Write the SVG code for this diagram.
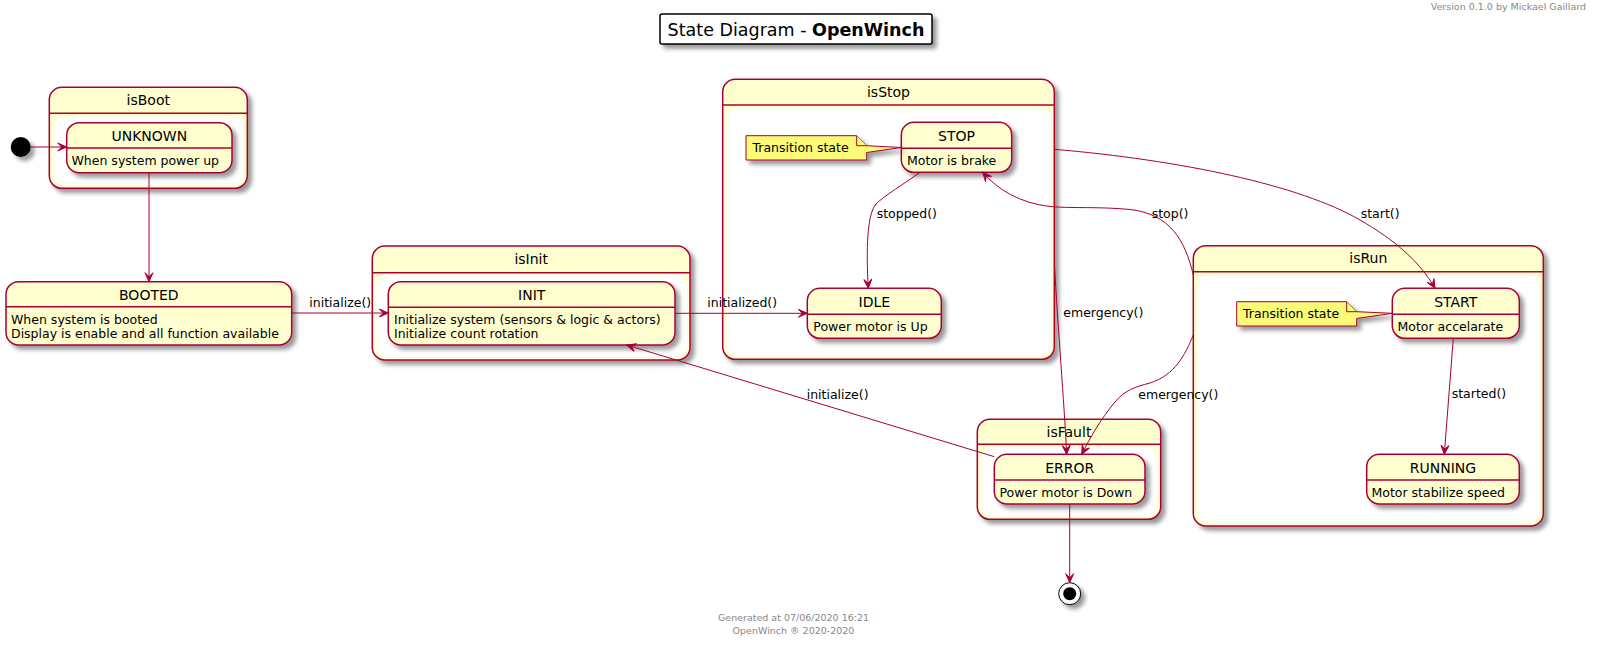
<svg xmlns="http://www.w3.org/2000/svg" width="1597" height="647" viewBox="0 0 1597 647">
<style>
text{font-family:"DejaVu Sans","Noto Sans",sans-serif;fill:#000000}
.st{fill:#FEFECE;stroke:#A80036;stroke-width:1.5}
.inner{fill:#FFFFFF;stroke:none}
.sep{stroke:#A80036;stroke-width:1.5;fill:none}
.note{fill:#FBFB77;stroke:#A80036;stroke-width:1}
.ln{fill:none;stroke:#A80036;stroke-width:1}
.t14{font-size:14px;text-anchor:middle}
.t12{font-size:12.5px}
.gray{font-size:9.5px;fill:#888888}
</style>
<defs>
<filter id="sh" x="-20%" y="-20%" width="150%" height="160%">
<feGaussianBlur in="SourceAlpha" stdDeviation="2" result="b"/>
<feColorMatrix in="b" type="matrix" values="0 0 0 0 0 0 0 0 0 0 0 0 0 0 0 0 0 0 .4 0" result="b2"/>
<feOffset in="b2" dx="4" dy="4" result="b3"/>
<feBlend in="SourceGraphic" in2="b3" mode="normal"/>
</filter>
<marker id="ah" viewBox="-10 -5 11 10" refX="0" refY="0" markerWidth="11" markerHeight="10" markerUnits="userSpaceOnUse" orient="auto">
<path d="M0,0 L-9,-4 L-5,0 L-9,4 Z" fill="#A80036" stroke="#A80036" stroke-width="1"/>
</marker>
</defs>

<g id="header">
<text class="gray" x="1586" y="9.5" text-anchor="end">Version 0.1.0 by Mickael Gaillard</text>
</g>
<g id="title">
<rect x="660" y="14" width="272" height="30" rx="2" fill="#FFFFFF" stroke="#000000" stroke-width="1.5" filter="url(#sh)"/>
<text x="796" y="35.5" font-size="17.5" text-anchor="middle">State Diagram - <tspan font-weight="bold">OpenWinch</tspan></text>
</g>

<g id="initial">
<circle cx="20.7" cy="147" r="10" fill="#000000" filter="url(#sh)"/>
</g>

<g id="isBoot">
<rect class="st" x="49.3" y="87.3" width="198" height="101" rx="12.5" filter="url(#sh)"/>
<line class="sep" x1="49.3" y1="113.3" x2="247.3" y2="113.3"/>
<text class="t14" x="148.3" y="105">isBoot</text>
<rect class="inner" x="53" y="117" width="191" height="68" rx="10"/>
<g id="UNKNOWN">
<rect class="st" x="66.7" y="122.7" width="165.3" height="50" rx="12.5" filter="url(#sh)"/>
<line class="sep" x1="66.7" y1="148" x2="232" y2="148"/>
<text class="t14" x="149.3" y="141">UNKNOWN</text>
<text class="t12" x="71.5" y="165">When system power up</text>
</g>
</g>

<g id="BOOTED">
<rect class="st" x="6" y="281.7" width="285.7" height="63.3" rx="12.5" filter="url(#sh)"/>
<line class="sep" x1="6" y1="306.7" x2="291.7" y2="306.7"/>
<text class="t14" x="148.8" y="300">BOOTED</text>
<text class="t12" x="11" y="324">When system is booted</text>
<text class="t12" x="11" y="337.5">Display is enable and all function available</text>
</g>

<g id="isInit">
<rect class="st" x="372.3" y="246" width="317.7" height="114" rx="12.5" filter="url(#sh)"/>
<line class="sep" x1="372.3" y1="272.7" x2="690" y2="272.7"/>
<text class="t14" x="531.2" y="264.3">isInit</text>
<rect class="inner" x="376" y="276" width="311" height="81" rx="10"/>
<g id="INIT">
<rect class="st" x="388.3" y="281.7" width="286.7" height="63.3" rx="12.5" filter="url(#sh)"/>
<line class="sep" x1="388.3" y1="307.3" x2="675" y2="307.3"/>
<text class="t14" x="531.7" y="300">INIT</text>
<text class="t12" x="394" y="324">Initialize system (sensors &amp; logic &amp; actors)</text>
<text class="t12" x="394" y="337.5">Initialize count rotation</text>
</g>
</g>

<g id="isStop">
<rect class="st" x="722.7" y="79.3" width="331.6" height="280" rx="12.5" filter="url(#sh)"/>
<line class="sep" x1="722.7" y1="105" x2="1054.3" y2="105"/>
<text class="t14" x="888.5" y="97">isStop</text>
<rect class="inner" x="726.5" y="108.5" width="324.5" height="247.5" rx="10"/>
<g id="STOP">
<rect class="st" x="901.3" y="122.3" width="110.4" height="50" rx="12.5" filter="url(#sh)"/>
<line class="sep" x1="901.3" y1="148.3" x2="1011.7" y2="148.3"/>
<text class="t14" x="956.5" y="141">STOP</text>
<text class="t12" x="907" y="164.7">Motor is brake</text>
</g>
<g id="noteStop">
<path class="note" d="M746,135.7 L856.7,135.7 L866.7,145.7 L901.3,147.5 L866.7,152.5 L866.7,160 L746,160 Z" filter="url(#sh)"/>
<path class="note" d="M856.7,135.7 L856.7,145.7 L866.7,145.7"/>
<text class="t12" x="752.5" y="152">Transition state</text>
</g>
<g id="IDLE">
<rect class="st" x="807.3" y="288.3" width="134" height="50" rx="12.5" filter="url(#sh)"/>
<line class="sep" x1="807.3" y1="314.3" x2="941.3" y2="314.3"/>
<text class="t14" x="874.3" y="307">IDLE</text>
<text class="t12" x="813.3" y="330.7">Power motor is Up</text>
</g>
</g>

<g id="isRun">
<rect class="st" x="1193.3" y="245.7" width="350" height="280.3" rx="12.5" filter="url(#sh)"/>
<line class="sep" x1="1193.3" y1="271.7" x2="1543.3" y2="271.7"/>
<text class="t14" x="1368.3" y="263">isRun</text>
<rect class="inner" x="1197" y="275" width="343" height="247.5" rx="10"/>
<g id="noteRun">
<path class="note" d="M1236.7,301.7 L1346.7,301.7 L1356.7,311.7 L1392.3,313.3 L1356.7,318.5 L1356.7,326 L1236.7,326 Z" filter="url(#sh)"/>
<path class="note" d="M1346.7,301.7 L1346.7,311.7 L1356.7,311.7"/>
<text class="t12" x="1243" y="318">Transition state</text>
</g>
<g id="START">
<rect class="st" x="1392.3" y="288.3" width="127" height="50" rx="12.5" filter="url(#sh)"/>
<line class="sep" x1="1392.3" y1="314.3" x2="1519.3" y2="314.3"/>
<text class="t14" x="1455.8" y="307">START</text>
<text class="t12" x="1397.5" y="330.7">Motor accelarate</text>
</g>
<g id="RUNNING">
<rect class="st" x="1366.7" y="454.3" width="152.6" height="49.7" rx="12.5" filter="url(#sh)"/>
<line class="sep" x1="1366.7" y1="480" x2="1519.3" y2="480"/>
<text class="t14" x="1443" y="473.3">RUNNING</text>
<text class="t12" x="1371.5" y="496.7">Motor stabilize speed</text>
</g>
</g>

<g id="isFault">
<rect class="st" x="977.3" y="419.3" width="183.4" height="100" rx="12.5" filter="url(#sh)"/>
<line class="sep" x1="977.3" y1="444.3" x2="1160.7" y2="444.3"/>
<text class="t14" x="1069" y="437">isFault</text>
<rect class="inner" x="981" y="448" width="176" height="68" rx="10"/>
<g id="ERROR">
<rect class="st" x="994.3" y="454.3" width="150.7" height="49.7" rx="12.5" filter="url(#sh)"/>
<line class="sep" x1="994.3" y1="480" x2="1145" y2="480"/>
<text class="t14" x="1069.7" y="473.3">ERROR</text>
<text class="t12" x="999.5" y="496.7">Power motor is Down</text>
</g>
</g>

<g id="final">
<circle cx="1069.7" cy="593.7" r="11" fill="#FFFFFF" stroke="#000000" stroke-width="1" filter="url(#sh)"/>
<circle cx="1069.7" cy="593.7" r="6.5" fill="#000000"/>
</g>

<g id="connectors">
<path class="ln" d="M31,147 L66.7,147" marker-end="url(#ah)"/>
<path class="ln" d="M149,172.7 L149,281.7" marker-end="url(#ah)"/>
<path class="ln" d="M291.7,313 L388.3,313" marker-end="url(#ah)"/>
<text class="t12" x="309.3" y="306.5">initialize()</text>
<path class="ln" d="M675,313.3 L807.3,313.3" marker-end="url(#ah)"/>
<text class="t12" x="707.3" y="306.5">initialized()</text>
<path class="ln" d="M920,172.5 C905,183 884,196 876,204 C867,214 866,250 868.3,288.3" marker-end="url(#ah)"/>
<text class="t12" x="876.7" y="217.7">stopped()</text>
<path class="ln" d="M1193.3,275 C1185,240 1170,214 1130,209.5 C1100,206.5 1070,208.5 1050,206.5 C1020,203 998,190 982.7,172.3" marker-end="url(#ah)"/>
<text class="t12" x="1151.7" y="217.7">stop()</text>
<path class="ln" d="M1054.3,149.3 C1180,160 1300,185 1360,220 C1395,240 1420,262 1435,288.3" marker-end="url(#ah)"/>
<text class="t12" x="1360.7" y="217.7">start()</text>
<path class="ln" d="M1054.3,262 C1058,330 1064,400 1066.7,454.3" marker-end="url(#ah)"/>
<text class="t12" x="1063.3" y="317.3">emergency()</text>
<path class="ln" d="M1193.3,335 C1185,355 1175,375 1150,383 C1135,387 1125,390 1115,402 C1100,420 1090,438 1081.7,454.3" marker-end="url(#ah)"/>
<text class="t12" x="1138.3" y="399.3">emergency()</text>
<path class="ln" d="M994.3,456.7 L626.7,345" marker-end="url(#ah)"/>
<text class="t12" x="806.7" y="399.3">initialize()</text>
<path class="ln" d="M1453.3,338.3 L1444.3,454.3" marker-end="url(#ah)"/>
<text class="t12" x="1451.7" y="398.3">started()</text>
<path class="ln" d="M1069.7,504 L1069.7,582.7" marker-end="url(#ah)"/>
</g>

<g id="footer">
<text class="gray" x="793.5" y="621" text-anchor="middle">Generated at 07/06/2020 16:21</text>
<text class="gray" x="793.5" y="634.3" text-anchor="middle">OpenWinch ® 2020-2020</text>
</g>
</svg>
